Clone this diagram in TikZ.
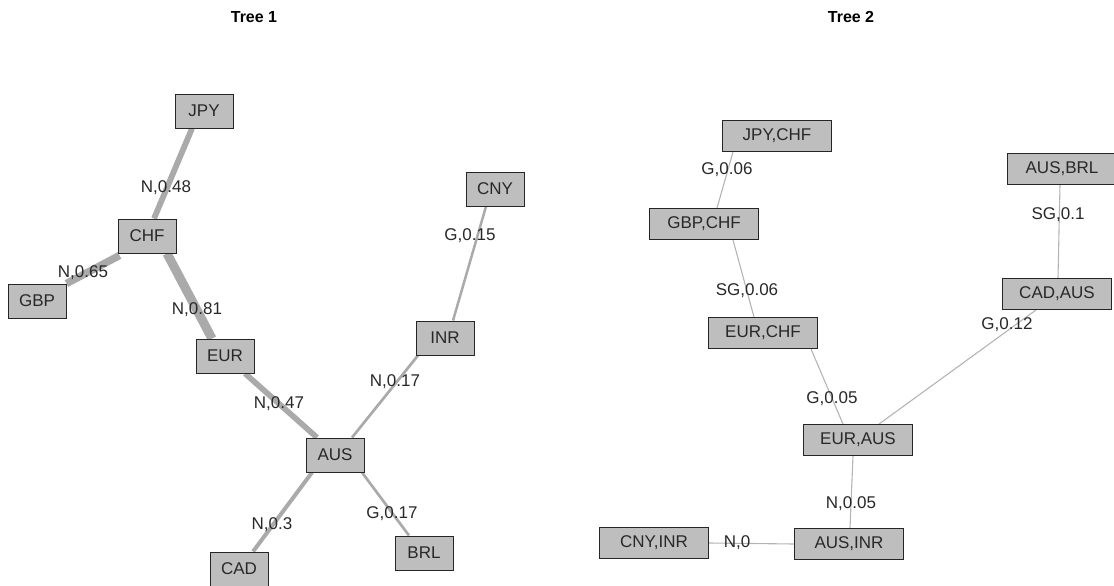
\documentclass[tikz,border=0pt]{standalone}
\usepackage{fontspec}
\setmainfont{Liberation Sans}
\usetikzlibrary{backgrounds}
\definecolor{boxfill}{RGB}{190,190,190}
\definecolor{edgeA}{RGB}{170,170,170}
\definecolor{edgeB}{RGB}{180,180,180}
\definecolor{txt}{RGB}{40,40,40}
\tikzset{
  box1/.style={draw=black!85, line width=0.9pt, fill=boxfill, minimum width=58pt, minimum height=34pt, inner sep=0pt, text=txt, font=\fontsize{17}{20}\selectfont},
  box2/.style={box1, minimum width=109pt, minimum height=31pt},
  lbl/.style={inner sep=0pt, text=txt, font=\fontsize{17}{20}\selectfont},
  ttl/.style={inner sep=0pt, text=black, font=\fontsize{16}{19}\selectfont\bfseries},
  edg/.style={draw=edgeA, line cap=butt},
  thin/.style={draw=edgeB, line width=1.1pt}
}
\begin{document}
\begin{tikzpicture}[x=1pt,y=-1pt]
\useasboundingbox (0,0) rectangle (1114,586);
% titles
\node[ttl] (t1) at (254,17) {Tree 1};
\node[ttl] (t2) at (851,17) {Tree 2};
% Tree 1 nodes
\node[box1] (jpy) at (204,111) {JPY};
\node[box1] (chf) at (147,236) {CHF};
\node[box1] (gbp) at (37,301) {GBP};
\node[box1] (eur) at (225,356) {EUR};
\node[box1] (inr) at (445,338) {INR};
\node[box1] (cny) at (495,189) {CNY};
\node[box1] (aus) at (335,455) {AUS};
\node[box1] (brl) at (424,553) {BRL};
\node[box1] (cad) at (239,569) {CAD};
% Tree 2 nodes
\node[box2] (jc) at (777,136) {JPY,CHF};
\node[box2] (gc) at (704,224) {GBP,CHF};
\node[box2] (ec) at (763,333) {EUR,CHF};
\node[box2] (ea) at (858,440) {EUR,AUS};
\node[box2] (ai) at (849,544) {AUS,INR};
\node[box2] (ci) at (654,543) {CNY,INR};
\node[box2] (ab) at (1062,169) {AUS,BRL};
\node[box2] (ca) at (1057,294) {CAD,AUS};
\begin{scope}[on background layer]
% Tree 1 edges
\draw[edg, line width=5.8pt] ([xshift=-12pt]jpy.south) -- ([xshift=7pt]chf.north);
\draw[edg, line width=7.5pt] ([shift={(2pt,-2pt)}]chf.south west) -- ([xshift=0pt]gbp.north east);
\draw[edg, line width=9.1pt] ([xshift=20pt]chf.south) -- ([xshift=-13pt]eur.north);
\draw[edg, line width=5.7pt] ([xshift=20pt]eur.south) -- ([xshift=-18pt]aus.north);
\draw[edg, line width=2.7pt] ([xshift=17pt]aus.north) -- ([xshift=-27pt]inr.south);
\draw[edg, line width=2.5pt] ([xshift=8pt]inr.north) -- ([xshift=-9pt]cny.south);
\draw[edg, line width=4pt] ([xshift=-23pt]aus.south) -- ([xshift=14pt]cad.north);
\draw[edg, line width=2.7pt] ([xshift=27pt]aus.south) -- ([xshift=-15pt]brl.north);
% Tree 2 edges
\draw[thin] ([xshift=-44pt]jc.south) -- ([xshift=13pt]gc.north);
\draw[thin] ([xshift=29pt]gc.south) -- ([xshift=-9pt]ec.north);
\draw[thin] ([xshift=48pt]ec.south) -- ([xshift=-15pt]ea.north);
\draw[thin] ([xshift=21pt]ea.north) -- ([xshift=-21pt]ca.south);
\draw[thin] ([xshift=1pt]ca.north) -- ([xshift=-2pt]ab.south);
\draw[thin] ([xshift=-5pt]ea.south) -- ([xshift=1pt]ai.north);
\draw[thin] (ai.west) -- (ci.east);
\end{scope}
% Tree 1 labels
\node[lbl] (l1) at (166,188) {N,0.48};
\node[lbl] (l2) at (83,273) {N,0.65};
\node[lbl] (l3) at (197,310) {N,0.81};
\node[lbl] (l4) at (279,404) {N,0.47};
\node[lbl] (l5) at (395,382) {N,0.17};
\node[lbl] (l6) at (470,236) {G,0.15};
\node[lbl] (l7) at (272,525) {N,0.3};
\node[lbl] (l8) at (392,514) {G,0.17};
% Tree 2 labels
\node[lbl] (m1) at (727,170) {G,0.06};
\node[lbl] (m2) at (747,291) {SG,0.06};
\node[lbl] (m3) at (832,399) {G,0.05};
\node[lbl] (m4) at (1007,325) {G,0.12};
\node[lbl] (m5) at (1058,215) {SG,0.1};
\node[lbl] (m6) at (851,504) {N,0.05};
\node[lbl] (m7) at (737,543) {N,0};
\end{tikzpicture}
\end{document}
